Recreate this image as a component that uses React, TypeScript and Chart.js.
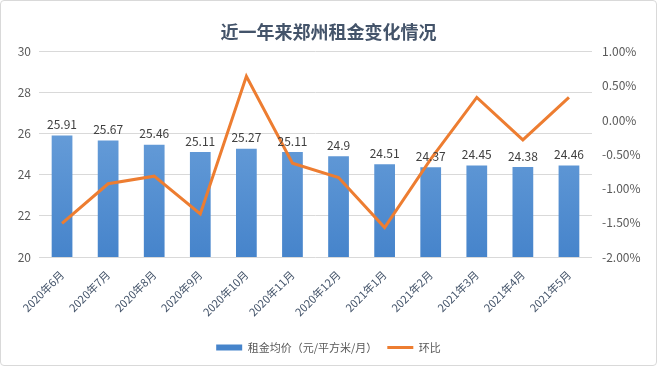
import React, { useEffect, useRef } from "react";
import { Chart, registerables } from "chart.js";

Chart.register(...registerables);

const categories = [
  "2020年6月", "2020年7月", "2020年8月", "2020年9月", "2020年10月", "2020年11月",
  "2020年12月", "2021年1月", "2021年2月", "2021年3月", "2021年4月", "2021年5月",
];
const rentValues = [25.91, 25.67, 25.46, 25.11, 25.27, 25.11, 24.9, 24.51, 24.37, 24.45, 24.38, 24.46];
const momValues = [-1.51, -0.93, -0.82, -1.37, 0.64, -0.63, -0.84, -1.57, -0.57, 0.33, -0.29, 0.33];
const titleText = "近一年来郑州租金变化情况";
const barLabel = "租金均价（元/平方米/月）";
const lineLabel = "环比";

const FONT = "'Noto Sans CJK SC', 'Noto Sans', sans-serif";

const dataLabelPlugin = {
  id: "barLabels",
  afterDatasetsDraw(chart: any) {
    const meta = chart.getDatasetMeta(0);
    const ctx = chart.ctx;
    ctx.save();
    ctx.font = `12px ${FONT}`;
    ctx.fillStyle = "#404040";
    ctx.textAlign = "center";
    ctx.textBaseline = "bottom";
    meta.data.forEach((el: any, i: number) => {
      ctx.fillText(String(rentValues[i]), el.x, el.y - 5);
    });
    ctx.restore();
  },
};

export default function App() {
  const ref = useRef<HTMLCanvasElement>(null);
  useEffect(() => {
    document.body.style.margin = "0";
    const canvas = ref.current!;
    const chart = new Chart(canvas, {
      type: "bar",
      data: {
        labels: categories,
        datasets: [
          {
            type: "bar",
            label: barLabel,
            data: rentValues,
            yAxisID: "y",
            order: 2,
            barPercentage: 0.45,
            categoryPercentage: 1,
            pointStyle: "rect",
            backgroundColor: (c: any) => {
              const area = c.chart.chartArea;
              if (!area) return "#5b97d6";
              const g = c.chart.ctx.createLinearGradient(0, area.top, 0, area.bottom);
              g.addColorStop(0, "#79abe0");
              g.addColorStop(1, "#4684cb");
              return g;
            },
          } as any,
          {
            type: "line",
            label: lineLabel,
            data: momValues,
            yAxisID: "y1",
            order: 1,
            borderColor: "#ed7d31",
            backgroundColor: "#ed7d31",
            borderWidth: 3,
            pointRadius: 0,
            tension: 0,
            pointStyle: "line",
          } as any,
        ],
      },
      options: {
        animation: false,
        responsive: false,
        layout: { padding: { bottom: 2 } },
        plugins: {
          title: {
            display: true,
            text: titleText,
            color: "#44546a",
            font: { family: FONT, size: 18, weight: "bold" },
            padding: { top: 20, bottom: 9 },
          },
          legend: {
            position: "bottom",
            labels: {
              usePointStyle: true,
              pointStyleWidth: 26,
              boxHeight: 6,
              color: "#595959",
              font: { family: FONT, size: 11 },
              padding: 10,
              sort: (a: any, b: any) => a.datasetIndex - b.datasetIndex,
            },
          },
          tooltip: { enabled: false },
        },
        scales: {
          x: {
            grid: { display: false },
            border: { display: false },
            ticks: {
              color: "#44546a",
              font: { family: FONT, size: 11 },
              maxRotation: 45,
              minRotation: 45,
            },
            afterFit: (s: any) => { s.height = 75; },
          },
          y: {
            position: "left",
            min: 20,
            max: 30,
            ticks: { stepSize: 2, color: "#595959", font: { family: FONT, size: 12 }, padding: 8 },
            grid: { color: "#d9d9d9", drawTicks: false },
            border: { display: false },
            afterFit: (s: any) => { s.width = 38; },
          },
          y1: {
            position: "right",
            min: -2,
            max: 1,
            ticks: {
              stepSize: 0.5,
              color: "#595959",
              font: { family: FONT, size: 12 },
              padding: 10,
              callback: (v: any) => Number(v).toFixed(2) + "%",
            },
            grid: { display: false, drawTicks: false },
            border: { display: false },
            afterFit: (s: any) => { s.width = 64; },
          },
        },
      } as any,
      plugins: [dataLabelPlugin],
    });
    return () => chart.destroy();
  }, []);
  return (
    <div style={{ width: 655, height: 364, border: "1px solid #d9d9d9", borderRadius: 4, background: "#fff" }}>
      <canvas ref={ref} width={655} height={364} style={{ display: "block" }} />
    </div>
  );
}
